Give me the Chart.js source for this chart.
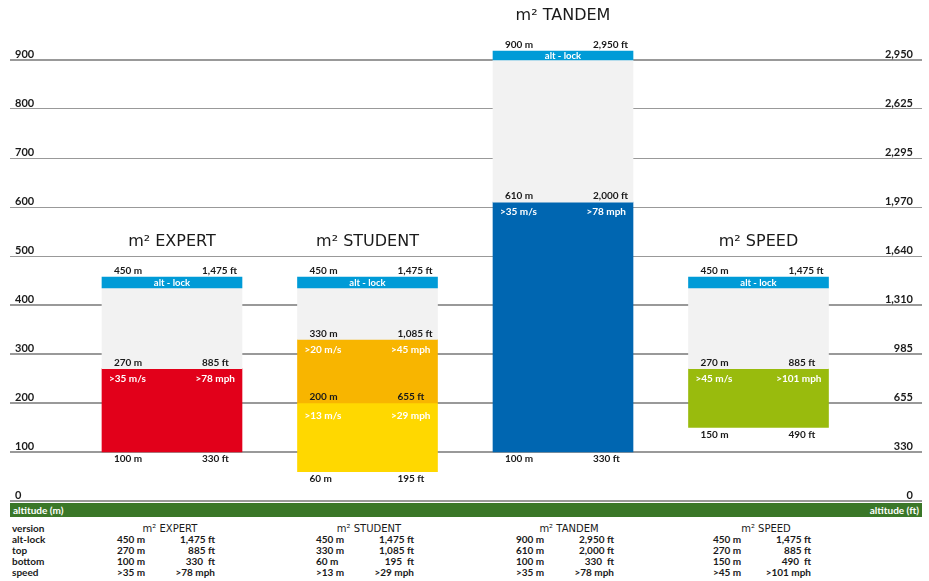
<!DOCTYPE html>
<html>
<head>
<meta charset="utf-8">
<script src="https://cdn.jsdelivr.net/npm/chart.js@4.4.1/dist/chart.umd.min.js"></script>
<style>
  html, body { margin: 0; padding: 0; background: #fff; }
  body { width: 929px; height: 581px; position: relative; overflow: hidden; font-family: Lato, sans-serif; }
  #wrap { position: absolute; left: 0; top: 0; width: 929px; height: 520px; }
  #band { position: absolute; left: 10px; top: 503px; width: 912px; height: 14px; background: #3a7728; color: #fff; font: bold 10px Lato, sans-serif; line-height: 14px; }
  #band span { position: absolute; top: 0; }
  .t { position: absolute; font: bold 10px Lato, sans-serif; color: #1a1a1a; white-space: pre; line-height: 11px; }
  .tt { position: absolute; font: 10px 'DejaVu Sans', sans-serif; color: #1a1a1a; white-space: pre; line-height: 11px; transform: translateX(-50%); }
</style>
</head>
<body>
<div id="wrap"><canvas id="chart"></canvas></div>
<div id="band"><span style="left:3px">altitude (m)</span><span style="right:3px">altitude (ft)</span></div>
<div id="table"></div>
<script>
// models, left to right
const models     = ['EXPERT', 'STUDENT', 'TANDEM', 'SPEED'];

// altitudes in metres and their foot labels
const altLockM   = [450, 450, 900, 450];
const altLockFt  = ['1,475', '1,475', '2,950', '1,475'];
const topM       = [270, 330, 610, 270];
const topFt      = ['885', '1,085', '2,000', '885'];
const midM       = [null, 200, null, null];
const midFt      = [null, '655', null, null];
const bottomM    = [100, 60, 100, 150];
const bottomFt   = ['330', '195', '330', '490'];

// alt-lock band as drawn
const bandLow    = [435, 435, 900, 435];
const bandHigh   = [457, 457, 918, 457];

// speeds
const speedMs    = [35, 20, 35, 45];
const speedMph   = [78, 45, 78, 101];
const lowSpeedMs = [null, 13, null, null];
const lowSpeedMph= [null, 29, null, null];

// right axis labels (ft) for 0..900 m
const ftTicks = ['0', '330', '655', '985', '1,310', '1,640', '1,970', '2,295', '2,625', '2,950'];

const segColors = ['#e2001a', '#f8b500', '#0066b1', '#99bb0d'];
const lowColor  = '#ffd800';
const GRAY      = '#f2f2f2';
const ALT       = '#009bd7';

const upper = models.map((m, i) => ({ x: i, y: [midM[i] ?? bottomM[i], topM[i]] }));
const lower = models.map((m, i) => midM[i] == null ? null : ({ x: i, y: [bottomM[i], midM[i]] })).filter(Boolean);
const grayB = models.map((m, i) => ({ x: i, y: [topM[i], bandLow[i]] }));
const altB  = models.map((m, i) => ({ x: i, y: [bandLow[i], bandHigh[i]] }));

const labelsPlugin = {
  id: 'labels',
  afterDraw(chart) {
    const { ctx, scales: { x, y } } = chart;
    ctx.save();
    ctx.textBaseline = 'middle';
    const small = 'bold 10px Lato, sans-serif';
    const txt = (s, px, py, align, color, font) => {
      ctx.font = font || small;
      ctx.fillStyle = color || '#1a1a1a';
      ctx.textAlign = align;
      ctx.fillText(s, px, py);
    };
    models.forEach((m, i) => {
      const cx = x.getPixelForValue(i);
      const L = cx - 70, R = cx + 70;
      const bTop = y.getPixelForValue(bandHigh[i]);
      const bBot = y.getPixelForValue(bandLow[i]);
      txt('m² ' + m, cx, bTop - 35, 'center', '#1a1a1a', '16px "DejaVu Sans", sans-serif');
      txt(altLockM[i] + ' m', L + 12, bTop - 6, 'left');
      txt(altLockFt[i] + ' ft', R - 40, bTop - 6, 'left');
      txt('alt - lock', cx, (bTop + bBot) / 2, 'center', '#fff', 'bold 9.5px Lato, sans-serif');

      const yt = y.getPixelForValue(topM[i]);
      txt(topM[i] + ' m', L + 12, yt - 6, 'left');
      txt(topFt[i] + ' ft', R - 40, yt - 6, 'left');
      txt('>' + speedMs[i] + ' m/s', L + 7, yt + 10, 'left', '#fff');
      txt('>' + speedMph[i] + ' mph', R - 7, yt + 10, 'right', '#fff');

      if (midM[i] != null) {
        const ym = y.getPixelForValue(midM[i]);
        txt(midM[i] + ' m', L + 12, ym - 6, 'left');
        txt(midFt[i] + ' ft', R - 40, ym - 6, 'left');
        txt('>' + lowSpeedMs[i] + ' m/s', L + 7, ym + 13, 'left', '#fff');
        txt('>' + lowSpeedMph[i] + ' mph', R - 7, ym + 13, 'right', '#fff');
      }

      const yb = y.getPixelForValue(bottomM[i]);
      txt(bottomM[i] + ' m', L + 12, yb + 7, 'left');
      txt(bottomFt[i] + ' ft', R - 40, yb + 7, 'left');
    });
    ctx.restore();
  }
};

const barDs = (data, color) => ({
  data, backgroundColor: color, borderWidth: 0, barThickness: 140, grouped: false
});

const noPad = s => { s.width = 0; s.paddingTop = 0; s.paddingBottom = 0; };

new Chart(document.getElementById('chart'), {
  type: 'bar',
  data: {
    datasets: [
      barDs(altB, ALT),
      barDs(grayB, GRAY),
      barDs(upper, segColors),
      barDs(lower, lowColor),
    ]
  },
  options: {
    responsive: true,
    maintainAspectRatio: false,
    animation: false,
    layout: { padding: { left: 10, right: 7, top: 11, bottom: 19 } },
    plugins: { legend: { display: false }, tooltip: { enabled: false } },
    scales: {
      x: { type: 'linear', min: -0.8286, max: 3.8363, offset: false, display: false },
      y: {
        min: 0, max: 1000, z: 1,
        afterBuildTicks: s => { s.ticks = s.ticks.filter(t => t.value <= 900); },
        afterFit: noPad,
        border: { display: false },
        grid: {
          color: '#999',
          drawTicks: false,
          lineWidth: c => [0, 100, 200, 300, 400, 900].includes(c.tick && c.tick.value) ? 2 : 1
        },
        ticks: {
          stepSize: 100, mirror: true, padding: 5, labelOffset: -6,
          color: '#1a1a1a', font: { family: 'Lato', weight: 'bold', size: 11 }
        }
      },
      y2: {
        position: 'right',
        min: 0, max: 1000, z: 1,
        afterBuildTicks: s => { s.ticks = s.ticks.filter(t => t.value <= 900); },
        afterFit: noPad,
        border: { display: false },
        grid: { display: false, drawTicks: false },
        ticks: {
          stepSize: 100, mirror: true, padding: -9, labelOffset: -6,
          color: '#1a1a1a', font: { family: 'Lato', weight: 'bold', size: 11 },
          callback: v => ftTicks[v / 100]
        }
      }
    }
  },
  plugins: [labelsPlugin]
});

// table below the chart
const rowNames = ['version', 'alt-lock', 'top', 'bottom', 'speed'];
const rowY     = [523, 534, 545, 556, 567];
const colX     = [117, 316, 516, 713];
const table    = document.getElementById('table');
const put = (cls, s, left, top, right) => {
  const d = document.createElement('div');
  d.className = cls;
  d.textContent = s;
  d.style.top = top + 'px';
  if (right != null) { d.style.left = (right - 120) + 'px'; d.style.width = '120px'; d.style.textAlign = 'right'; }
  else d.style.left = left + 'px';
  table.appendChild(d);
};
rowNames.forEach((r, k) => put('t', r, 12, rowY[k]));
models.forEach((m, i) => {
  const cx = colX[i];
  put('tt', 'm² ' + m, cx + 53, rowY[0]);
  put('t', altLockM[i] + ' m', cx, rowY[1]);
  put('t', altLockFt[i] + ' ft', null, rowY[1], cx + 98);
  put('t', topM[i] + ' m', cx, rowY[2]);
  put('t', topFt[i] + ' ft', null, rowY[2], cx + 98);
  put('t', bottomM[i] + ' m', cx, rowY[3]);
  put('t', bottomFt[i] + '  ft', null, rowY[3], cx + 98);
  put('t', '>' + (lowSpeedMs[i] ?? speedMs[i]) + ' m', cx, rowY[4]);
  put('t', '>' + (lowSpeedMph[i] ?? speedMph[i]) + ' mph', null, rowY[4], cx + 98);
});
</script>
</body>
</html>
